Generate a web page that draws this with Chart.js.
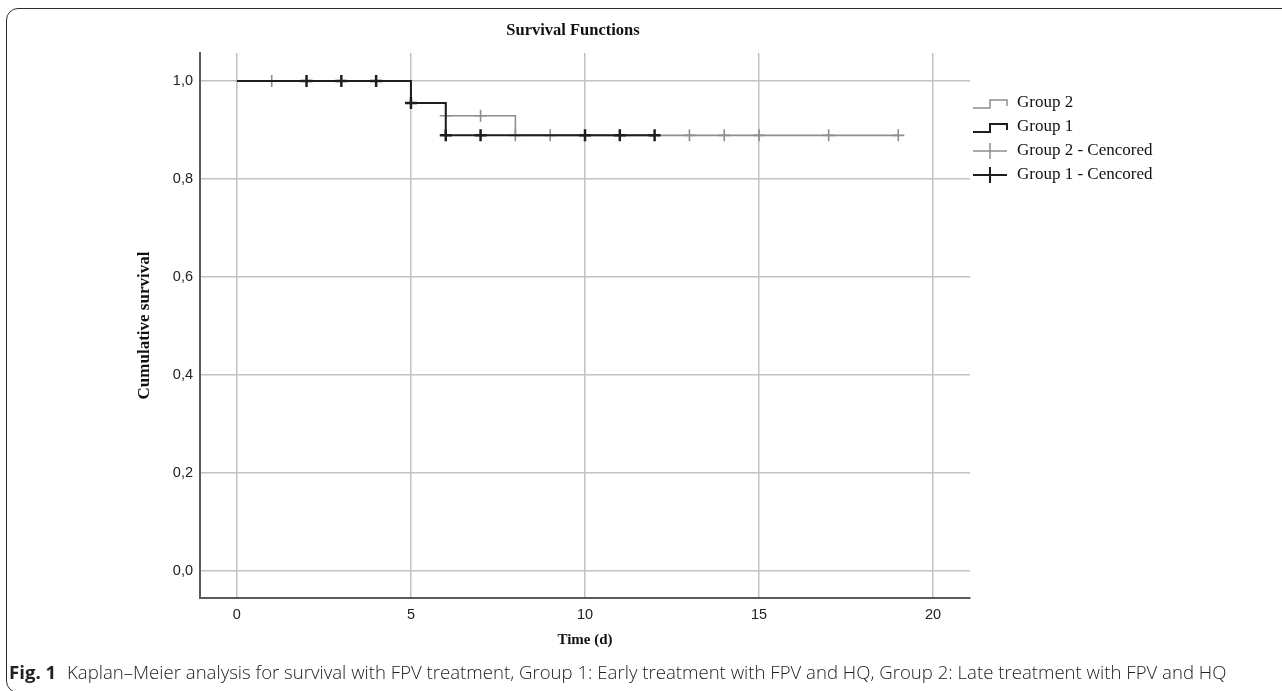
<!DOCTYPE html>
<html>
<head>
<meta charset="utf-8">
<script src="https://cdn.jsdelivr.net/npm/chart.js@4.4.1/dist/chart.umd.min.js"></script>
<style>
  html, body { margin: 0; padding: 0; background: #fff; width: 1282px; height: 691px; overflow: hidden; }
  #frame { position: absolute; left: 6px; top: 8px; width: 1320px; height: 683px; border: 1.5px solid #2b2b2b; border-radius: 12px; }
  #wrap { position: absolute; left: 0; top: 0; width: 1282px; height: 691px; }
  #caption { position: absolute; left: 9px; top: 659px; font-family: "Open Sans", sans-serif; font-size: 18.6px; font-weight: 300; color: #222; white-space: nowrap; }
  #caption b { font-weight: 700; margin-right: 6px; }
</style>
</head>
<body>
<div id="frame"></div>
<div id="wrap"><canvas id="km"></canvas></div>
<div id="caption"><b>Fig. 1</b> Kaplan–Meier analysis for survival with FPV treatment, Group 1: Early treatment with FPV and HQ, Group 2: Late treatment with FPV and HQ</div>
<script>
// step curves (time in days, cumulative survival)
const g1Times = [0, 5, 6, 12];
const g1Surv = [1, 0.955, 0.889, 0.889];
const g2Times = [0, 5, 6, 8, 19];
const g2Surv = [1, 0.955, 0.929, 0.889, 0.889];

// censored marks
const g1CensTimes = [2, 3, 4, 5, 6, 7, 10, 11, 12];
const g1CensSurv = [1, 1, 1, 0.955, 0.889, 0.889, 0.889, 0.889, 0.889];
const g2CensTimes = [1, 6, 7, 8, 9, 13, 14, 15, 17, 19];
const g2CensSurv = [1, 0.929, 0.929, 0.889, 0.889, 0.889, 0.889, 0.889, 0.889, 0.889];

const xTicks = [0, 5, 10, 15, 20];
const yTicks = [0, 0.2, 0.4, 0.6, 0.8, 1.0];
const yTickLabels = ['0,0', '0,2', '0,4', '0,6', '0,8', '1,0'];

const chartTitle = 'Survival Functions';
const legendLabels = ['Group 2', 'Group 1', 'Group 2 - Cencored', 'Group 1 - Cencored'];

const BLACK = '#1e1e1e';
const GRAY = '#8e8e8e';

function pts(xs, ys) {
  return xs.map((x, i) => ({ x: x, y: ys[i] }));
}

// title + legend drawn by hand, SPSS style symbols
const kmDecor = {
  id: 'kmDecor',
  afterDraw(chart) {
    const ctx = chart.ctx;
    ctx.save();
    ctx.fillStyle = '#111';
    ctx.font = 'bold 16.5px "Liberation Serif"';
    ctx.textAlign = 'center';
    ctx.textBaseline = 'middle';
    ctx.fillText(chartTitle, 573, 31);

    const rows = [103, 127, 151, 175];
    const x0 = 973, xm = 990, x1 = 1007;
    ctx.textAlign = 'left';
    rows.forEach((y, i) => {
      const col = (i % 2 === 0) ? GRAY : BLACK;
      ctx.strokeStyle = col;
      ctx.lineWidth = (i % 2 === 0) ? 1.5 : 2;
      ctx.beginPath();
      if (i < 2) {
        ctx.moveTo(x0, y + 5);
        ctx.lineTo(xm, y + 5);
        ctx.lineTo(xm, y - 3);
        ctx.lineTo(x1, y - 3);
        ctx.lineTo(x1, y + 3);
      } else {
        ctx.moveTo(x0, y);
        ctx.lineTo(x1, y);
        ctx.moveTo(xm, y - 8);
        ctx.lineTo(xm, y + 8);
      }
      ctx.stroke();
      ctx.fillStyle = '#111';
      ctx.font = '17px "Liberation Serif"';
      ctx.fillText(legendLabels[i], 1017, y);
    });
    ctx.restore();
  }
};

new Chart(document.getElementById('km'), {
  type: 'scatter',
  data: {
    datasets: [
      {
        label: 'Group 1',
        data: pts(g1Times, g1Surv),
        showLine: true,
        stepped: 'before',
        borderColor: BLACK,
        borderWidth: 2,
        pointRadius: 0,
        order: 1
      },
      {
        label: 'Group 1 - Cencored',
        data: pts(g1CensTimes, g1CensSurv),
        pointStyle: 'cross',
        pointRadius: 6,
        pointBorderWidth: 2.5,
        borderColor: BLACK,
        backgroundColor: BLACK,
        order: 0
      },
      {
        label: 'Group 2',
        data: pts(g2Times, g2Surv),
        showLine: true,
        stepped: 'before',
        borderColor: GRAY,
        borderWidth: 1.6,
        pointRadius: 0,
        order: 3
      },
      {
        label: 'Group 2 - Cencored',
        data: pts(g2CensTimes, g2CensSurv),
        pointStyle: 'cross',
        pointRadius: 6,
        pointBorderWidth: 1.6,
        borderColor: GRAY,
        backgroundColor: GRAY,
        order: 2
      }
    ]
  },
  options: {
    responsive: true,
    maintainAspectRatio: false,
    animation: false,
    layout: { padding: { left: 120, right: 312, top: 53, bottom: 40 } },
    plugins: {
      legend: { display: false },
      tooltip: { enabled: false }
    },
    scales: {
      x: {
        type: 'linear',
        min: -1.06,
        max: 21.06,
        afterFit: s => { s.height = 53; },
        afterBuildTicks: s => { s.ticks = xTicks.map(v => ({ value: v })); },
        grid: { color: '#c2c2c2', lineWidth: 1.5, drawTicks: false },
        border: { color: '#5a5a5a', width: 2 },
        ticks: {
          padding: 8,
          color: '#222',
          font: { family: 'Liberation Sans', size: 14.5 },
          callback: v => String(v)
        },
        title: {
          display: true,
          text: 'Time (d)',
          color: '#111',
          font: { family: 'Liberation Serif', size: 15, weight: 'bold' },
          padding: { top: 0, bottom: 2 }
        }
      },
      y: {
        type: 'linear',
        min: -0.055,
        max: 1.057,
        afterFit: s => { s.width = 80; },
        afterBuildTicks: s => { s.ticks = yTicks.map(v => ({ value: v })); },
        grid: { color: '#c2c2c2', lineWidth: 1.5, drawTicks: false },
        border: { color: '#5a5a5a', width: 2 },
        ticks: {
          padding: 7,
          color: '#222',
          font: { family: 'Liberation Sans', size: 14.5 },
          callback: (v) => yTickLabels[yTicks.indexOf(Math.round(v * 10) / 10)]
        },
        title: {
          display: true,
          text: 'Cumulative survival',
          color: '#111',
          font: { family: 'Liberation Serif', size: 17, weight: 'bold' },
          padding: { top: 14.8, bottom: 0 }
        }
      }
    }
  },
  plugins: [kmDecor]
});
</script>
</body>
</html>
